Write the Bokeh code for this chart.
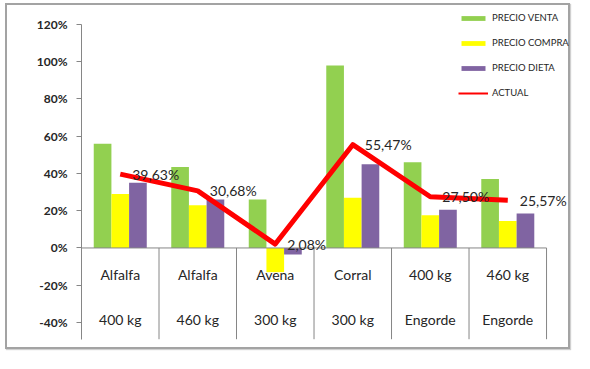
from bokeh.plotting import figure
from bokeh.models import (FixedTicker, PrintfTickFormatter, Legend, LegendItem,
                          Range1d, ColumnDataSource)
from bokeh.core.properties import value
from bokeh.embed import file_html
from bokeh.resources import INLINE

# ---- data ----
cat_line1 = ["Alfalfa", "Alfalfa", "Avena", "Corral", "400 kg", "460 kg"]
cat_line2 = ["400 kg", "460 kg", "300 kg", "300 kg", "Engorde", "Engorde"]
precio_venta = [56, 43.5, 26, 98, 46, 37]
precio_compra = [29, 23, -13, 27, 17.5, 14.5]
precio_dieta = [35, 26, -3.5, 45, 20.5, 18.5]
actual = [39.63, 30.68, 2.08, 55.47, 27.50, 25.57]
actual_labels = ["39,63%", "30,68%", "2,08%", "55,47%", "27,50%", "25,57%"]
y_ticks = [-40, -20, 0, 20, 40, 60, 80, 100, 120]

n = len(cat_line1)
centers = [i + 0.5 for i in range(n)]
bounds = [float(i) for i in range(n + 1)]
AXMIN, AXMAX = -49, 120
bw = 0.228

FONT = "Lato"
TXT = "#262626"
AX = "#868686"

W, H = 565, 346
LEFT = 74
p = figure(width=W, height=H, output_backend="svg", toolbar_location=None,
           x_range=Range1d(0, 6.335), y_range=Range1d(-55.6, 130.2),
           min_border_left=LEFT, min_border_right=0, min_border_top=0,
           min_border_bottom=0, background_fill_color="white",
           border_fill_color="white")
p.outline_line_color = None
p.grid.visible = False
p.xaxis.visible = False
p.styles = {"border": "2px solid #a3a3a3", "margin-left": "5px",
            "margin-top": "3px", "box-shadow": "1px 1px 1px #d0d0d0"}

ya = p.yaxis[0]
ya.bounds = (AXMIN, AXMAX)
ya.ticker = FixedTicker(ticks=y_ticks)
ya.formatter = PrintfTickFormatter(format="%d%%")
ya.axis_line_color = AX
ya.major_tick_line_color = AX
ya.major_tick_out = 5
ya.major_tick_in = 0
ya.minor_tick_line_color = None
ya.major_label_text_font = FONT
ya.major_label_text_font_style = "bold"
ya.major_label_text_font_size = "12px"
ya.major_label_text_color = TXT
ya.major_label_standoff = 9

src = ColumnDataSource(dict(x=centers, a=actual, lab=actual_labels,
                            l1=cat_line1, l2=cat_line2))

r_v = p.vbar(x=[c - bw for c in centers], top=precio_venta, bottom=0, width=bw,
             fill_color="#92D050", line_color=None)
r_c = p.vbar(x=centers, top=precio_compra, bottom=0, width=bw,
             fill_color="#FFFF00", line_color=None)
r_d = p.vbar(x=[c + bw for c in centers], top=precio_dieta, bottom=0, width=bw,
             fill_color="#8064A2", line_color=None)

# category axis at 0 with dividers
p.segment(x0=[bounds[0]], y0=[0], x1=[bounds[-1]], y1=[0], line_color=AX, line_width=1)
p.segment(x0=bounds[1:], y0=[0] * n, x1=bounds[1:], y1=[AXMIN] * n,
          line_color=AX, line_width=1)
p.text(x="x", y=0, text="l1", source=src, y_offset=27, text_align="center",
       text_baseline="middle", text_font=value(FONT), text_font_size="14px",
       text_color=TXT)
p.text(x="x", y=0, text="l2", source=src, y_offset=72, text_align="center",
       text_baseline="middle", text_font=value(FONT), text_font_size="14px",
       text_color=TXT)

r_a = p.line(x="x", y="a", source=src, line_color="#FF0000", line_width=5,
             line_join="round")
p.text(x="x", y="a", text="lab", source=src, x_offset=12, text_align="left",
       text_baseline="middle", text_font=value(FONT), text_font_size="14px",
       text_color=TXT)

# thinner line used only for the legend swatch (no visible points)
r_leg_line = p.line(x=[float("nan"), float("nan")], y=[float("nan"), float("nan")],
                    line_color="#FF0000", line_width=2)

legend = Legend(items=[LegendItem(label="PRECIO VENTA", renderers=[r_v]),
                       LegendItem(label="PRECIO COMPRA", renderers=[r_c]),
                       LegendItem(label="PRECIO DIETA", renderers=[r_d]),
                       LegendItem(label="ACTUAL", renderers=[r_leg_line])],
                location=(377, 253), orientation="vertical")
legend.glyph_width = 30
legend.glyph_height = 6
legend.label_height = 10
legend.spacing = 14
legend.padding = 0
legend.margin = 0
legend.label_standoff = 4
legend.label_text_font = FONT
legend.label_text_font_size = "9.5px"
legend.label_text_color = TXT
legend.border_line_alpha = 0
legend.background_fill_alpha = 0
p.add_layout(legend)

open("out.html", "w").write(file_html(p, INLINE))
